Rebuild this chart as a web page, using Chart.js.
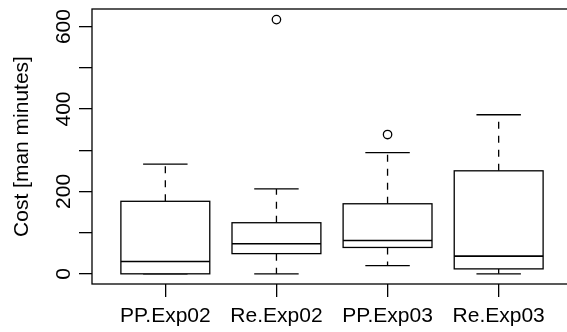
<!DOCTYPE html>
<html>
<head>
<meta charset="utf-8">
<script src="https://cdn.jsdelivr.net/npm/chart.js@4.4.1/dist/chart.umd.min.js"></script>
<style>
html, body { margin: 0; padding: 0; overflow: hidden; background: #fff; width: 567px; height: 332px; }
#wrap { width: 580px; height: 332px; }
</style>
</head>
<body>
<div id="wrap"><canvas id="c" width="580" height="332"></canvas></div>
<script>
const categories = ['PP.Exp02', 'Re.Exp02', 'PP.Exp03', 'Re.Exp03'];
const lowerWhisker = [0, 0, 20, 0];
const q1 = [0, 49, 64, 12];
const median = [30, 73, 81, 43];
const q3 = [176, 124, 170, 250];
const upperWhisker = [266, 206, 294, 386];
const outliers = [[], [617], [338], []];
const yTickValues = [0, 100, 200, 300, 400, 500, 600];
const yTickLabels = ['0', '', '200', '', '400', '', '600'];
const yTitle = 'Cost [man minutes]';

const FAMILY = '"Liberation Sans", Arial, Helvetica, sans-serif';
const FONT = '21px ' + FAMILY;

const outlierPoints = [];
outliers.forEach((arr, i) => arr.forEach(v => outlierPoints.push({ x: i + 1, y: v })));

const boxPlugin = {
  id: 'boxes',
  afterDatasetsDraw(chart) {
    const ctx = chart.ctx;
    const xs = chart.scales.x, ys = chart.scales.y;
    const unit = xs.getPixelForValue(2) - xs.getPixelForValue(1);
    ctx.save();
    ctx.strokeStyle = '#000';
    ctx.lineWidth = 1.3;
    categories.forEach((c, i) => {
      const cx = xs.getPixelForValue(i + 1);
      const bw = unit * 0.4;
      const cw = unit * 0.2;
      const yLo = ys.getPixelForValue(lowerWhisker[i]);
      const yQ1 = ys.getPixelForValue(q1[i]);
      const yMed = ys.getPixelForValue(median[i]);
      const yQ3 = ys.getPixelForValue(q3[i]);
      const yHi = ys.getPixelForValue(upperWhisker[i]);
      ctx.setLineDash([7, 7]);
      ctx.beginPath();
      ctx.moveTo(cx, yQ3); ctx.lineTo(cx, yHi);
      ctx.moveTo(cx, yQ1); ctx.lineTo(cx, yLo);
      ctx.stroke();
      ctx.setLineDash([]);
      ctx.beginPath();
      ctx.moveTo(cx - cw, yHi); ctx.lineTo(cx + cw, yHi);
      ctx.moveTo(cx - cw, yLo); ctx.lineTo(cx + cw, yLo);
      ctx.stroke();
      ctx.fillStyle = '#fff';
      ctx.fillRect(cx - bw, yQ3, 2 * bw, yQ1 - yQ3);
      ctx.strokeRect(cx - bw, yQ3, 2 * bw, yQ1 - yQ3);
      ctx.lineWidth = 1.6;
      ctx.beginPath();
      ctx.moveTo(cx - bw, yMed); ctx.lineTo(cx + bw, yMed);
      ctx.stroke();
      ctx.lineWidth = 1.3;
    });
    const a = chart.chartArea;
    ctx.strokeRect(a.left, a.top, a.right - a.left, a.bottom - a.top);
    ctx.fillStyle = '#000';
    ctx.font = FONT;
    ctx.textAlign = 'center';
    ctx.textBaseline = 'middle';
    yTickValues.forEach((v, k) => {
      if (!yTickLabels[k]) return;
      ctx.save();
      ctx.translate(64, ys.getPixelForValue(v));
      ctx.rotate(-Math.PI / 2);
      ctx.fillText(yTickLabels[k], 0, 0);
      ctx.restore();
    });
    ctx.save();
    ctx.translate(22, (a.top + a.bottom) / 2);
    ctx.rotate(-Math.PI / 2);
    ctx.fillText(yTitle, 0, 0);
    ctx.restore();
    ctx.restore();
  }
};

new Chart(document.getElementById('c'), {
  type: 'scatter',
  data: {
    datasets: [{
      data: outlierPoints,
      pointStyle: 'circle',
      pointRadius: 4.2,
      pointHoverRadius: 4.2,
      borderColor: '#000',
      backgroundColor: 'rgba(0,0,0,0)',
      borderWidth: 1.3
    }]
  },
  options: {
    responsive: false,
    animation: false,
    events: [],
    layout: { padding: { top: 9, right: 8, left: 0, bottom: 0 } },
    plugins: { legend: { display: false }, tooltip: { enabled: false } },
    scales: {
      x: {
        type: 'linear',
        min: 0.34,
        max: 4.66,
        afterBuildTicks: s => { s.ticks = categories.map((c, i) => ({ value: i + 1 })); },
        afterFit: s => { s.height = 48; },
        grid: { drawOnChartArea: false, tickLength: 13, color: '#000', lineWidth: 1.3 },
        border: { display: false },
        ticks: {
          callback: (v) => categories[Math.round(v) - 1] || '',
          color: '#000',
          font: { family: FAMILY, size: 21 },
          padding: 7,
          maxRotation: 0,
          minRotation: 0,
          autoSkip: false
        }
      },
      y: {
        type: 'linear',
        min: -24.7,
        max: 642.7,
        afterBuildTicks: s => { s.ticks = yTickValues.map(v => ({ value: v })); },
        afterFit: s => { s.width = 92; },
        grid: { drawOnChartArea: false, tickLength: 13, color: '#000', lineWidth: 1.3 },
        border: { display: false },
        ticks: { display: true, callback: () => '', padding: 0 }
      }
    }
  },
  plugins: [boxPlugin]
});
</script>
</body>
</html>
